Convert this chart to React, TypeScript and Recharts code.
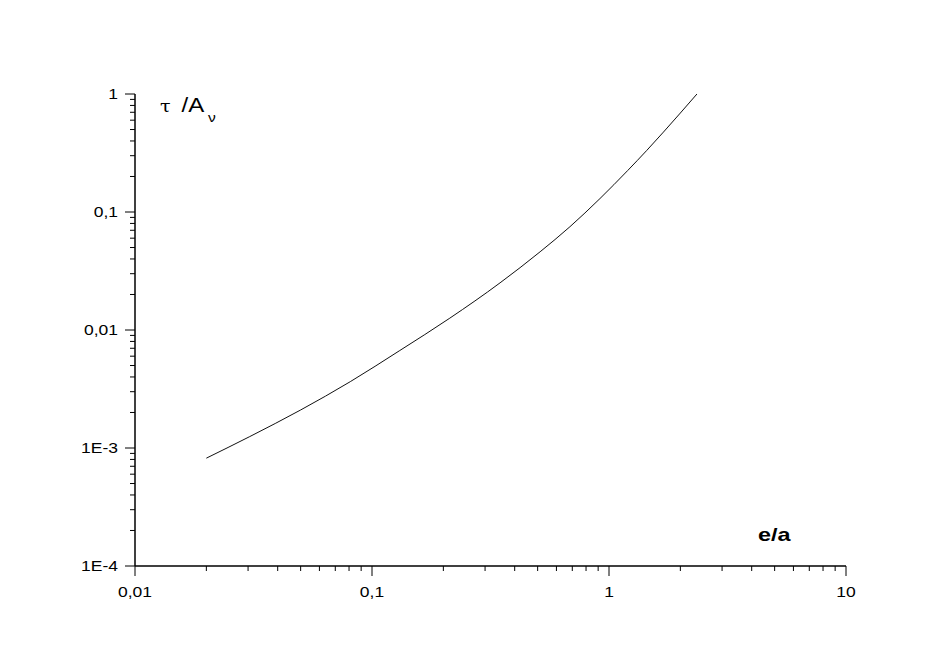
import { LineChart, Line, XAxis, YAxis, Label } from 'recharts';

// curve (log-log)
const ratio = [0.02, 0.0305, 0.05, 0.081, 0.131, 0.213, 0.347, 0.512, 0.684, 0.916, 1.2, 1.44, 2.0, 2.35];
const tauOverA = [8.2e-4, 1.25e-3, 2.1e-3, 3.65e-3, 6.7e-3, 0.0126, 0.0251, 0.046, 0.075, 0.13, 0.225, 0.331, 0.69, 1.0];

const xDecades = [0.01, 0.1, 1, 10];
const xDecadeLabels = ['0,01', '0,1', '1', '10'];
const yDecades = [1e-4, 1e-3, 0.01, 0.1, 1];
const yDecadeLabels = ['1E-4', '1E-3', '0,01', '0,1', '1'];
const minorSteps = [2, 3, 4, 5, 6, 7, 8, 9];

const withMinor = (decades: number[]) => {
  const out: number[] = [];
  decades.forEach((d, i) => {
    out.push(d);
    if (i < decades.length - 1) minorSteps.forEach((m) => out.push(d * m));
  });
  return out;
};

const xTicks = withMinor(xDecades);
const yTicks = withMinor(yDecades);

const data = ratio.map((r, i) => ({ r, v: tauOverA[i] }));

const FONT = '"Liberation Sans", Arial, sans-serif';
const STRETCH = 1.25;

const labelFor = (v: number, decades: number[], labels: string[]) => {
  const idx = decades.findIndex((d) => Math.abs(Math.log10(d) - Math.log10(v)) < 1e-6);
  return idx >= 0 ? labels[idx] : undefined;
};

const YTick = (props: any) => {
  const { x, y, payload } = props;
  const label = labelFor(payload.value, yDecades, yDecadeLabels);
  const major = label !== undefined;
  return (
    <g>
      <line x1={x - (major ? 10 : 5)} x2={x} y1={y} y2={y} stroke="#000" strokeWidth={1} />
      {major && (
        <g transform={`translate(${x - 17},${y + 5}) scale(${STRETCH},1)`}>
          <text x={0} y={0} textAnchor="end" fontSize={14} fontFamily={FONT} fill="#000">
            {label}
          </text>
        </g>
      )}
    </g>
  );
};

const XTick = (props: any) => {
  const { x, y, payload } = props;
  const label = labelFor(payload.value, xDecades, xDecadeLabels);
  const major = label !== undefined;
  return (
    <g>
      <line x1={x} x2={x} y1={y} y2={y + (major ? 10 : 5)} stroke="#000" strokeWidth={1} />
      {major && (
        <g transform={`translate(${x},${y + 31}) scale(${STRETCH},1)`}>
          <text x={0} y={0} textAnchor="middle" fontSize={14} fontFamily={FONT} fill="#000">
            {label}
          </text>
        </g>
      )}
    </g>
  );
};

const YTitle = (props: any) => {
  const { x, y, width } = props.viewBox;
  const left = x + width + 25;
  const base = y + 18;
  return (
    <g transform={`translate(${left},${base}) scale(1.2,1)`}>
      <text x={0} y={0} fontSize={20} fontFamily={FONT} fill="#000">
        <tspan fontSize={16} fontFamily='"DejaVu Serif", serif'>τ</tspan>
        <tspan x={18}>/A</tspan>
        <tspan x={40} dy={10} fontSize={13}>ν</tspan>
      </text>
    </g>
  );
};

const XTitle = (props: any) => {
  const { x, y } = props.viewBox;
  return (
    <g transform={`translate(${x + 623},${y - 25}) scale(1.3,1)`}>
      <text x={0} y={0} fontSize={18} fontWeight="bold" fontFamily={FONT} fill="#000">
        e/a
      </text>
    </g>
  );
};

export default function App() {
  return (
    <div style={{ width: 915, height: 651, background: '#fff' }}>
      <LineChart
        width={915}
        height={651}
        data={data}
        margin={{ top: 86, right: 77, bottom: 53, left: 67 }}
      >
        <XAxis
          dataKey="r"
          type="number"
          scale="log"
          domain={[0.01, 10]}
          allowDataOverflow
          ticks={xTicks}
          interval={0}
          tick={<XTick />}
          tickLine={false}
          tickSize={0}
          tickMargin={0}
          height={40}
          axisLine={{ stroke: '#000', strokeWidth: 1.5 }}
        >
          <Label content={<XTitle />} />
        </XAxis>
        <YAxis
          dataKey="v"
          type="number"
          scale="log"
          domain={[1e-4, 1]}
          allowDataOverflow
          ticks={yTicks}
          interval={0}
          tick={<YTick />}
          tickLine={false}
          tickSize={0}
          tickMargin={0}
          width={60}
          axisLine={{ stroke: '#000', strokeWidth: 1.5 }}
        >
          <Label content={<YTitle />} />
        </YAxis>
        <Line
          type="monotone"
          dataKey="v"
          stroke="#111"
          strokeWidth={1}
          dot={false}
          isAnimationActive={false}
        />
      </LineChart>
    </div>
  );
}
